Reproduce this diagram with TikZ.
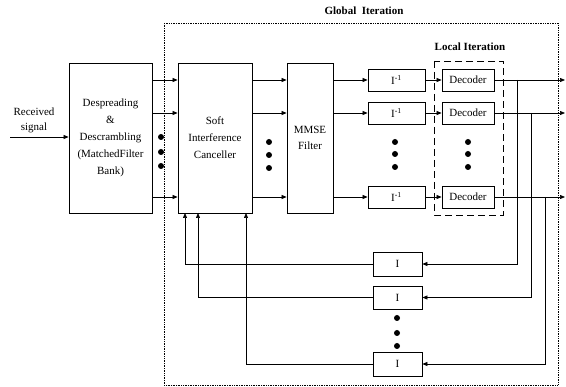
\documentclass[tikz,border=0pt]{standalone}
\usepackage{fontspec}
\setmainfont{Liberation Serif}
\usetikzlibrary{arrows.meta}
\begin{document}
\begin{tikzpicture}[x=1pt,y=-1pt,
  box/.style={draw,line width=0.8pt,align=center,inner sep=1pt,font=\fontsize{11}{17}\selectfont},
  arr/.style={-{Triangle[length=5pt,width=4pt]},line width=0.7pt},
  ln/.style={line width=0.7pt},
  dot/.style={circle,fill,inner sep=0pt,minimum size=6pt},
  lbl/.style={font=\fontsize{11}{13}\selectfont\bfseries}]
\useasboundingbox (0,0) rectangle (566,387);
% frames
\draw[densely dotted,line width=0.7pt] (164,23) rectangle (558,385);
\node[lbl] (glab) at (364,11) {Global\enspace Iteration};
\draw[dashed,dash pattern=on 7pt off 4pt,line width=0.8pt] (434,61) rectangle (503,215);
\node[lbl] (llab) at (470,47) {Local Iteration};
% main boxes
\node[box,minimum width=83pt,minimum height=150pt] (desp) at (110.5,138) {Despreading\\\&\\Descrambling\\(MatchedFilter\\Bank)};
\node[box,minimum width=74pt,minimum height=150pt] (sic) at (215,138) {Soft\\Interference\\Canceller};
\node[box,minimum width=46pt,minimum height=150pt,font=\fontsize{11}{16}\selectfont] (mmse) at (310,138) {MMSE\\Filter};
% received signal
\node[font=\fontsize{11}{15}\selectfont,align=center] (rs) at (34,120) {Received\\signal};
\coordinate (rsin) at (10,137);
\draw[arr] (rsin) -- (desp.west |- rsin);
% I^-1 and decoder boxes
\foreach \i/\y in {1/80,2/113,3/197}{
  \node[box,minimum width=57pt,minimum height=22pt] (ii\i) at (396.5,\y) {I\textsuperscript{-1}};
  \node[box,minimum width=52pt,minimum height=22pt] (dec\i) at (468,\y) {Decoder};
  \coordinate (out\i) at (565,\y);
  \draw[arr] (desp.east |- ii\i) -- (sic.west |- ii\i);
  \draw[arr] (sic.east |- ii\i) -- (mmse.west |- ii\i);
  \draw[arr] (mmse.east |- ii\i) -- (ii\i.west);
  \draw[arr] (ii\i.east) -- (dec\i.west);
  \draw[arr] (dec\i.east) -- (out\i);
}
% dots
\foreach \x/\ys in {161/{137,152,166},269/{142,155,168},395/{142,154,167},468/{142,154,167},397/{318,333,346}}{
  \foreach \yy in \ys { \node[dot] at (\x,\yy) {}; }
}
% feedback I boxes
\node[box,minimum width=49pt,minimum height=24pt] (fb1) at (397.5,264) {I};
\node[box,minimum width=49pt,minimum height=23pt] (fb2) at (397.5,297.5) {I};
\node[box,minimum width=49pt,minimum height=24pt] (fb3) at (397.5,364) {I};
\coordinate (v1) at (517,80);
\coordinate (v2) at (531,113);
\coordinate (v3) at (545,197);
\coordinate (s1) at (185,213);
\coordinate (s2) at (198,213);
\coordinate (s3) at (246,213);
\foreach \i in {1,2,3}{
  \draw[arr] (v\i) -- (v\i |- fb\i) -- (fb\i.east);
  \draw[arr] (fb\i.west) -- (s\i |- fb\i) -- (s\i);
}
\end{tikzpicture}
\end{document}
